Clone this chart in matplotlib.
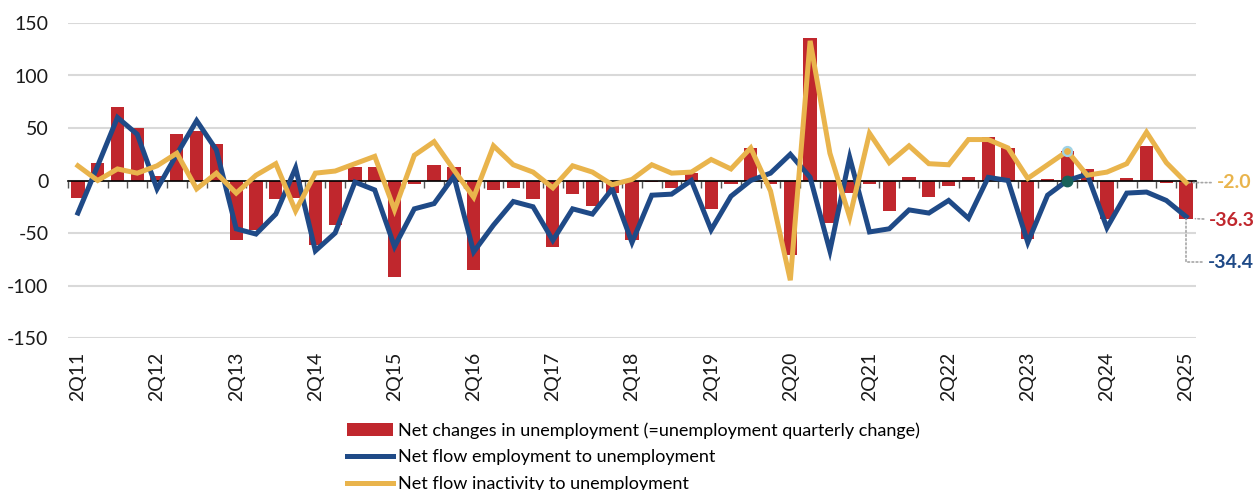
import matplotlib
matplotlib.use("Agg")
import matplotlib.pyplot as plt
import numpy as np

plt.rcParams['font.family'] = ['Lato', 'DejaVu Sans']
plt.rcParams['axes.unicode_minus'] = False

# ---- data ----
quarters = []
for y in range(11, 26):
    for q in (1, 2, 3, 4):
        if (y == 11 and q < 2) or (y == 25 and q > 2):
            continue
        quarters.append(f"{q}Q{y}")

net_change = [-17, 17, 70, 50, 4, 44, 47, 35, -57, -47, -18, -17, -61, -42, 13, 13,
              -92, -3, 15, 13, -85, -9, -7.5, -18, -63, -13, -24, -12, -57, -1, -7, 7,
              -27, -3.5, 31, -3, -71, 135.5, -40, -12, -3.5, -29, 3.5, -16, -5, 3, 41, 31,
              -56, 1, 28, 11, -37, 2, 33, -2.5, -36.3]
emp_to_unemp = [-31, 14, 60, 44, -8, 25, 57, 29, -46, -51, -32, 12, -67, -50, -1.5, -9,
                -63, -27, -22, 4, -68, -42.5, -20, -25, -57, -27, -32, -8, -59, -14, -13, 0,
                -47, -15, 0, 7, 25, 3, -67, 22, -49, -46, -28, -31, -19, -36, 3, 0,
                -59, -14, 0, 6, -45, -12, -11, -19, -34.4]
inact_to_unemp = [14, 0, 11, 7, 14, 26, -8, 7, -12, 5, 16, -29, 7, 9, 16, 23,
                  -28, 24, 37, 10, -16, 33, 15, 8, -7, 14, 8, -4, 1, 15, 7, 8,
                  20, 11, 31, -10, -95, 133, 26, -35, 45, 17, 33, 16, 15, 39, 39, 31,
                  2, 15, 28, 5, 8, 16, 46, 17, -2.0]
highlight_idx = 50

labels = ["Net changes in unemployment (=unemployment quarterly change)",
          "Net flow employment to unemployment",
          "Net flow inactivity to unemployment"]

RED = "#C0272D"
BLUE = "#1F4A87"
YELLOW = "#E9B44C"

fig = plt.figure(figsize=(12.56, 4.90), dpi=100)
ax = fig.add_axes([68/1256, 1-338/490, (1196-68)/1256, (338-23)/490])

x = np.arange(len(quarters))
bars = ax.bar(x, net_change, width=0.67, color=RED, zorder=2, label=labels[0])
lb, = ax.plot(x, emp_to_unemp, color=BLUE, lw=3.6, zorder=3, solid_joinstyle='miter',
              label=labels[1])
ly, = ax.plot(x, inact_to_unemp, color=YELLOW, lw=3.6, zorder=4, solid_joinstyle='miter',
              label=labels[2])
ax.plot(x[highlight_idx], emp_to_unemp[highlight_idx], 'o', ms=7.5, color="#17615A",
        mec="#17615A", zorder=5)
ax.plot(x[highlight_idx], inact_to_unemp[highlight_idx], 'o', ms=6.5, color=YELLOW,
        mec="#9FD3E6", mew=1.6, zorder=5)

ax.set_xlim(-0.5, len(quarters) - 0.5)
ax.set_ylim(-150, 150)
ax.set_yticks(np.arange(-150, 151, 50))
ax.yaxis.grid(True, color="#D9D9D9", lw=1.5, zorder=0)
ax.set_axisbelow(True)
ax.tick_params(axis='y', length=0, labelsize=14, pad=14, labelcolor="#1a1a1a")
for s in ('left', 'right', 'top'):
    ax.spines[s].set_visible(False)

# zero axis line with boundary ticks
ax.spines['bottom'].set_position(('data', 0))
ax.spines['bottom'].set_color('black')
ax.spines['bottom'].set_linewidth(1.2)
ax.spines['bottom'].set_zorder(2.5)
ax.set_xticks(np.arange(-0.5, len(quarters), 1))
ax.set_xticklabels([])
ax.tick_params(axis='x', length=5, width=1, color="#555555", direction='out')

# category labels at the bottom
sec = ax.secondary_xaxis('bottom')
sec.spines['bottom'].set_visible(False)
tick_pos = [i for i, q in enumerate(quarters) if q.startswith('2Q')]
sec.set_xticks(tick_pos)
sec.set_xticklabels([quarters[i] for i in tick_pos], rotation=90, fontsize=14,
                    color="#1a1a1a")
sec.tick_params(length=0, pad=10)

# end-value annotations
last = len(quarters) - 1
arrow = dict(arrowstyle='-', color='#A6A6A6', lw=1.2, linestyle=(0, (1, 1.5)),
             shrinkA=2, shrinkB=2)
ax.annotate(f"{inact_to_unemp[-1]:.1f}", xy=(last, inact_to_unemp[-1]),
            xytext=(22, 0), textcoords='offset points', ha='left', va='center',
            fontsize=14, fontweight='bold', color=YELLOW, annotation_clip=False,
            arrowprops=dict(arrow, connectionstyle='arc3'))
ax.annotate(f"{net_change[-1]:.1f}", xy=(last + 0.33, net_change[-1]),
            xytext=(12, -1), textcoords='offset points', ha='left', va='center',
            fontsize=14, fontweight='bold', color=RED, annotation_clip=False,
            arrowprops=dict(arrow, connectionstyle='arc3'))
ax.annotate(f"{emp_to_unemp[-1]:.1f}", xy=(last, emp_to_unemp[-1]),
            xytext=(15.5, -33), textcoords='offset points', ha='left', va='center',
            fontsize=14, fontweight='bold', color=BLUE, annotation_clip=False,
            arrowprops=dict(arrow, connectionstyle='angle,angleA=0,angleB=90,rad=0'))

fig.legend(handles=[bars, lb, ly], labels=labels, loc='upper left',
           bbox_to_anchor=(347/1256, 1-422/490), frameon=False,
           prop={'family': ['Lato', 'DejaVu Sans'], 'size': 13},
           handlelength=2.55, handletextpad=0.28, labelspacing=0.6, borderpad=0,
           borderaxespad=0)

fig.savefig("out.png", dpi=100)
